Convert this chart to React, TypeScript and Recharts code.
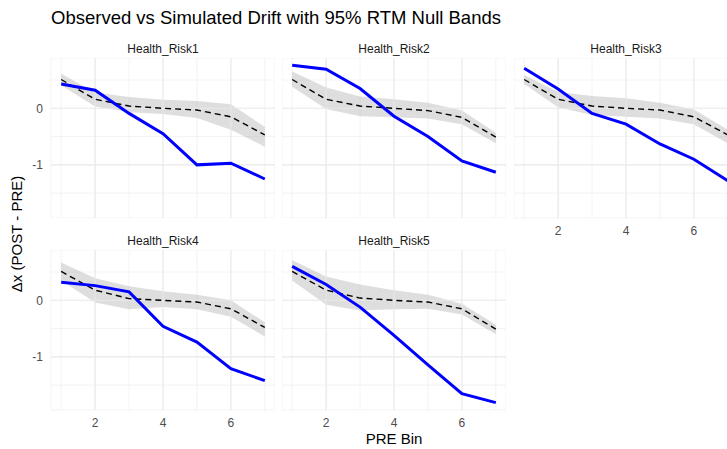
import React from 'react';
import { ComposedChart, Area, Line, XAxis, YAxis, CartesianGrid, ReferenceLine } from 'recharts';

const BINS = [1, 2, 3, 4, 5, 6, 7];
const PANEL_NAMES = ['Health_Risk1', 'Health_Risk2', 'Health_Risk3', 'Health_Risk4', 'Health_Risk5'];

// observed drift (blue)
const OBS_1 = [0.43, 0.32, -0.09, -0.45, -1.0, -0.97, -1.25];
const OBS_2 = [0.76, 0.69, 0.35, -0.14, -0.5, -0.93, -1.13];
const OBS_3 = [0.71, 0.34, -0.09, -0.28, -0.63, -0.9, -1.28];
const OBS_4 = [0.32, 0.26, 0.15, -0.46, -0.74, -1.21, -1.42];
const OBS_5 = [0.6, 0.28, -0.12, -0.62, -1.14, -1.65, -1.81];

// simulated RTM mean (dashed)
const SIM_1 = [0.51, 0.16, 0.04, 0.0, -0.03, -0.15, -0.47];
const SIM_2 = [0.51, 0.16, 0.04, 0.0, -0.04, -0.16, -0.51];
const SIM_3 = [0.51, 0.16, 0.04, 0.0, -0.03, -0.15, -0.47];
const SIM_4 = [0.51, 0.18, 0.03, 0.0, -0.03, -0.15, -0.48];
const SIM_5 = [0.51, 0.18, 0.04, 0.0, -0.03, -0.15, -0.51];

// 95% band
const LO_1 = [0.41, 0.03, -0.07, -0.1, -0.17, -0.38, -0.68];
const HI_1 = [0.61, 0.28, 0.2, 0.15, 0.13, 0.07, -0.33];
const LO_2 = [0.38, -0.01, -0.14, -0.16, -0.18, -0.28, -0.62];
const HI_2 = [0.65, 0.37, 0.21, 0.16, 0.1, -0.04, -0.43];
const LO_3 = [0.43, 0.02, -0.12, -0.15, -0.18, -0.28, -0.62];
const HI_3 = [0.59, 0.29, 0.22, 0.18, 0.1, -0.02, -0.38];
const LO_4 = [0.35, -0.04, -0.16, -0.12, -0.16, -0.29, -0.64];
const HI_4 = [0.67, 0.39, 0.25, 0.16, 0.1, 0.0, -0.39];
const LO_5 = [0.35, -0.08, -0.18, -0.16, -0.15, -0.25, -0.6];
const HI_5 = [0.71, 0.42, 0.28, 0.18, 0.1, -0.06, -0.43];

const X_TICKS = [1, 2, 3, 4, 5, 6, 7];
const Y_TICKS = [-1.5, -1, -0.5, 0, 0.5];
const X_MAJOR = [2, 4, 6];
const Y_MAJOR = [-1, 0];

const SERIES = [
  { obs: OBS_1, sim: SIM_1, lo: LO_1, hi: HI_1 },
  { obs: OBS_2, sim: SIM_2, lo: LO_2, hi: HI_2 },
  { obs: OBS_3, sim: SIM_3, lo: LO_3, hi: HI_3 },
  { obs: OBS_4, sim: SIM_4, lo: LO_4, hi: HI_4 },
  { obs: OBS_5, sim: SIM_5, lo: LO_5, hi: HI_5 },
];

const FONT = '"Liberation Sans", Arial, Helvetica, sans-serif';
const PW = 224;
const PH = 160;
const COL_X = [51, 282, 514];
const ROW_Y = [58, 250];
const Y_AXIS_W = 40;
const X_AXIS_H = 26;

function Panel({ idx, col, row, showX, showY }: { idx: number; col: number; row: number; showX: boolean; showY: boolean }) {
  const s = SERIES[idx];
  const data = BINS.map((b, i) => ({ bin: b, obs: s.obs[i], sim: s.sim[i], band: [s.lo[i], s.hi[i]] }));
  const left = COL_X[col] - (showY ? Y_AXIS_W : 0);
  const w = PW + (showY ? Y_AXIS_W : 0);
  const h = PH + (showX ? X_AXIS_H : 0);
  const tickStyle = { fontSize: 12, fill: '#4D4D4D', fontFamily: FONT };
  return (
    <div style={{ position: 'absolute', left, top: ROW_Y[row], width: w, height: h }}>
      <ComposedChart width={w} height={h} data={data} margin={{ top: 0, right: 0, bottom: 0, left: 0 }}>
        <CartesianGrid stroke="#EBEBEB" strokeWidth={0.6} />
        <XAxis
          dataKey="bin"
          type="number"
          domain={[0.7, 7.3]}
          ticks={X_TICKS}
          hide={!showX}
          height={X_AXIS_H}
          axisLine={false}
          tickLine={false}
          tick={tickStyle}
          tickFormatter={(v: number) => (v % 2 === 0 ? String(v) : '')}
          interval={0}
        />
        <YAxis
          type="number"
          domain={[-1.94, 0.89]}
          ticks={Y_TICKS}
          hide={!showY}
          width={Y_AXIS_W}
          axisLine={false}
          tickLine={false}
          tick={tickStyle}
          tickFormatter={(v: number) => (Number.isInteger(v) ? String(v) : '')}
          interval={0}
          allowDataOverflow
        />
        {X_MAJOR.map((v) => (
          <ReferenceLine key={'x' + v} x={v} stroke="#EBEBEB" strokeWidth={1.1} />
        ))}
        {Y_MAJOR.map((v) => (
          <ReferenceLine key={'y' + v} y={v} stroke="#EBEBEB" strokeWidth={1.1} />
        ))}
        <Area dataKey="band" type="linear" stroke="none" fill="#ADADAD" fillOpacity={0.4} isAnimationActive={false} />
        <Line dataKey="sim" type="linear" stroke="#000000" strokeWidth={1.4} strokeDasharray="6 4" dot={false} isAnimationActive={false} />
        <Line dataKey="obs" type="linear" stroke="#0000FF" strokeWidth={3} dot={false} isAnimationActive={false} />
      </ComposedChart>
    </div>
  );
}

export default function App() {
  const layout = [
    { col: 0, row: 0, showX: false, showY: true },
    { col: 1, row: 0, showX: false, showY: false },
    { col: 2, row: 0, showX: true, showY: false },
    { col: 0, row: 1, showX: true, showY: true },
    { col: 1, row: 1, showX: true, showY: false },
  ];
  return (
    <div style={{ position: 'fixed', left: 0, top: 0, width: 727, height: 449, overflow: 'hidden', background: '#fff', fontFamily: FONT }}>
      {layout.map((l, i) => (
        <Panel key={i} idx={i} {...l} />
      ))}
      <svg width={727} height={449} style={{ position: 'absolute', left: 0, top: 0, pointerEvents: 'none' }}>
        <text x={51} y={24} fontSize={18.5} fill="#000" fontFamily={FONT}>
          Observed vs Simulated Drift with 95% RTM Null Bands
        </text>
        {layout.map((l, i) => (
          <text key={i} x={COL_X[l.col] + PW / 2} y={ROW_Y[l.row] - 5} fontSize={12} fill="#1A1A1A" textAnchor="middle" fontFamily={FONT}>
            {PANEL_NAMES[i]}
          </text>
        ))}
        <text x={394} y={444} fontSize={15} fill="#000" textAnchor="middle" fontFamily={FONT}>
          PRE Bin
        </text>
        <text x={22} y={234} fontSize={15} fill="#000" textAnchor="middle" fontFamily={FONT} transform="rotate(-90 22 234)">
          Δx (POST - PRE)
        </text>
      </svg>
    </div>
  );
}
